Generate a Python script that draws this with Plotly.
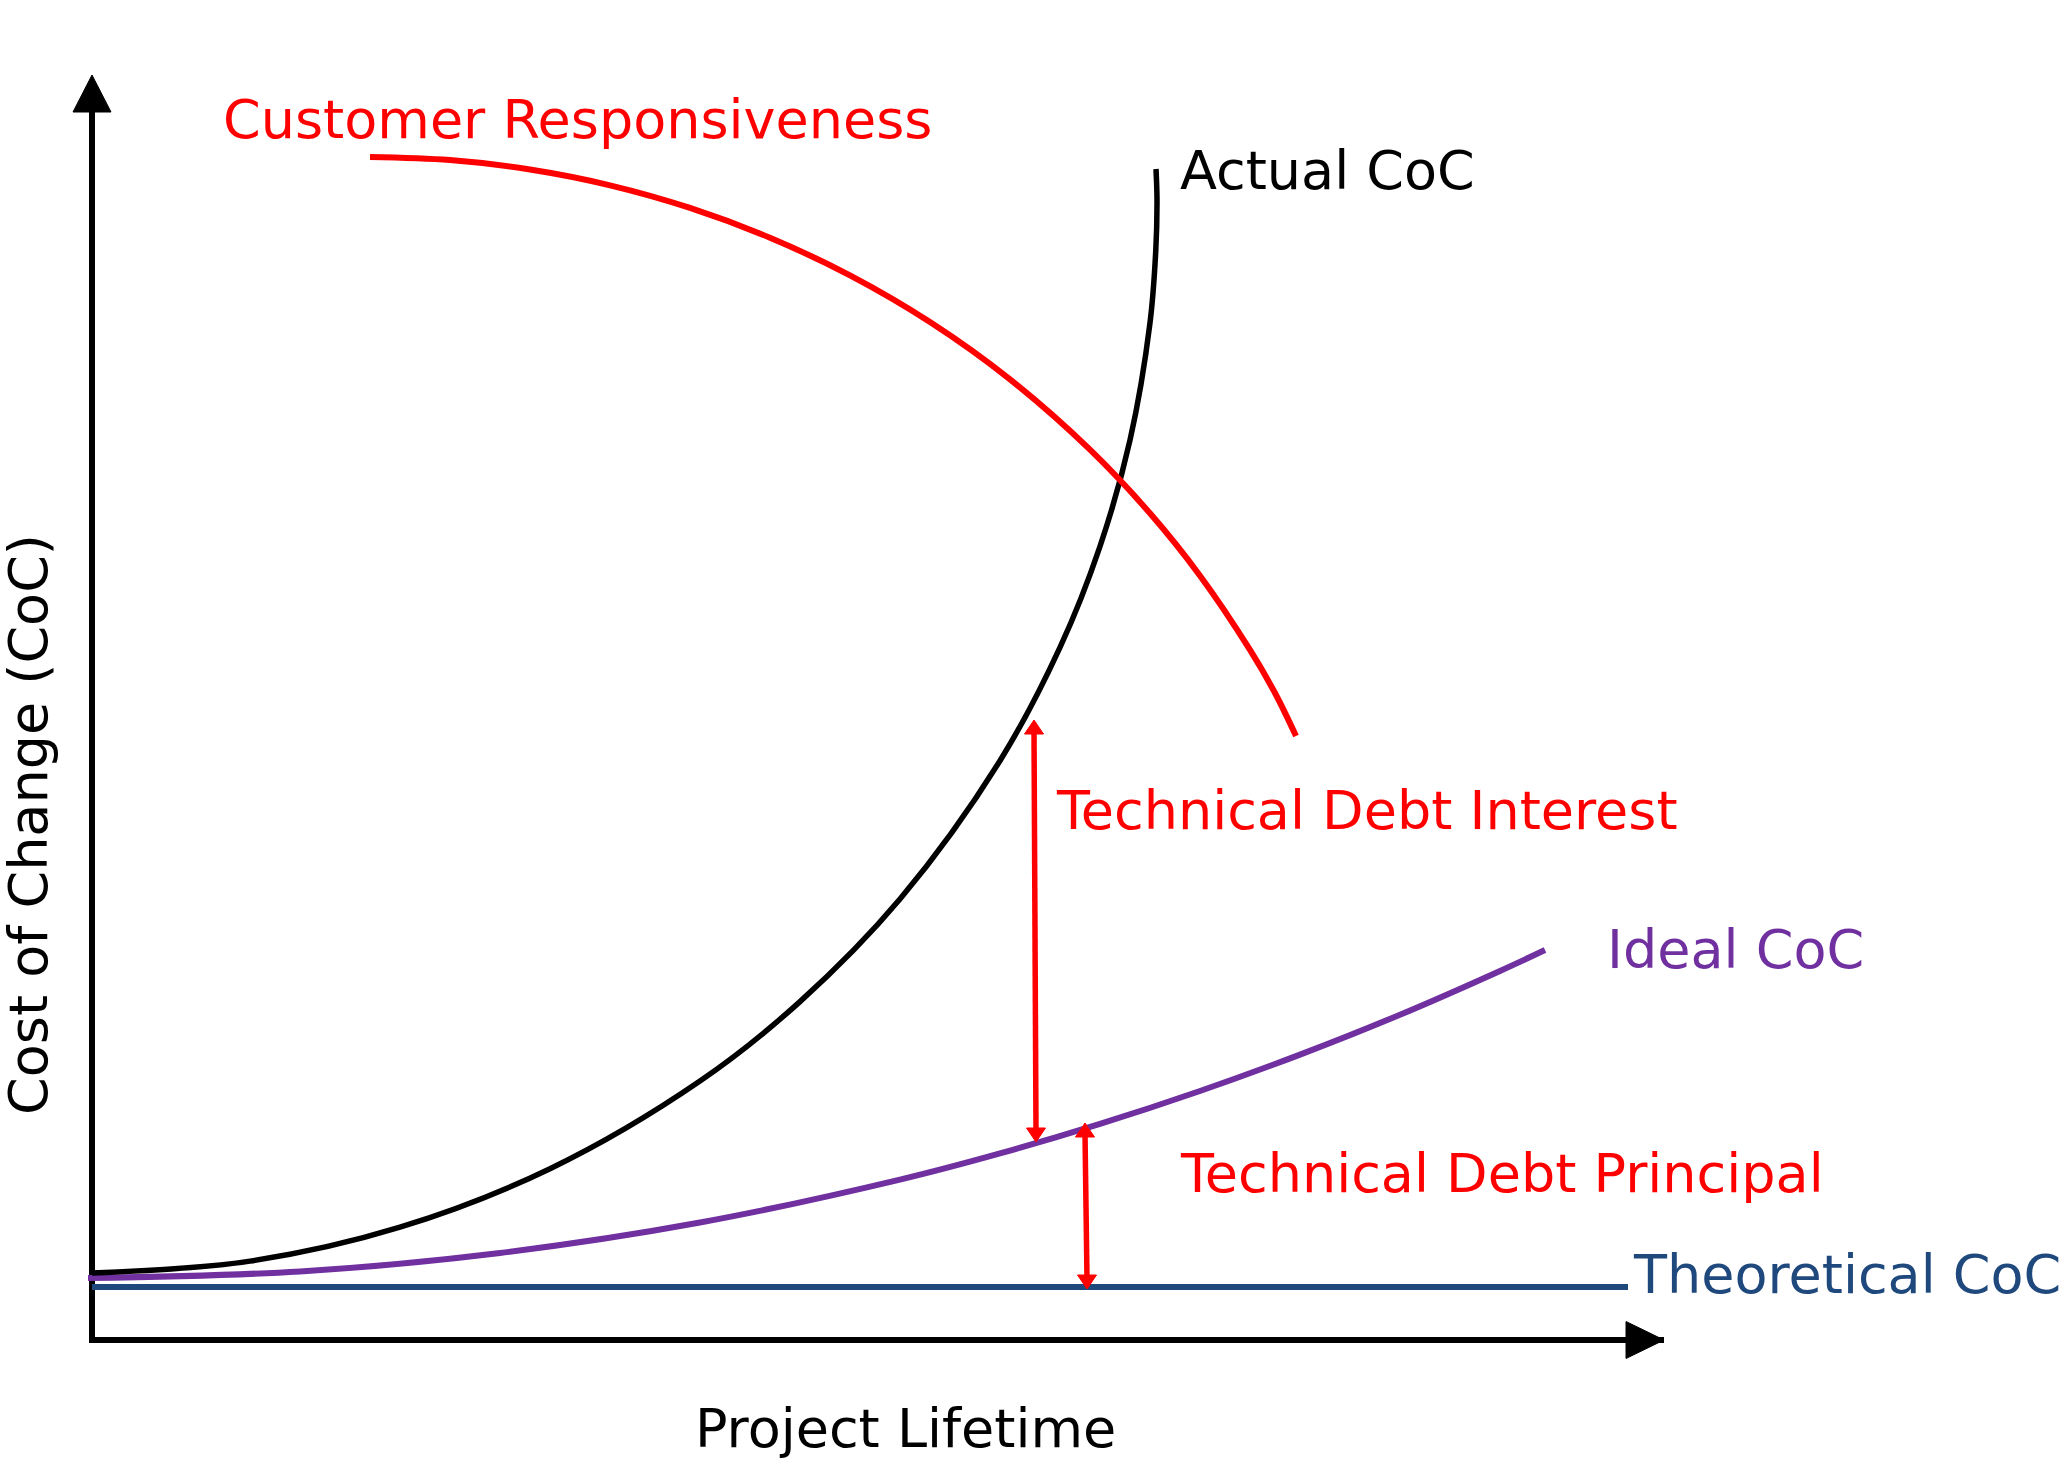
import plotly.graph_objects as go

# ---------------- data (arbitrary units: project lifetime / cost of change) ----------------
actual_x = [0, 15.8, 30.8, 45.8, 60.8, 70.8, 80.8, 90.8, 96.8, 100.8, 103.8, 105.8, 106.38, 106.5, 106.4]
actual_y = [6.7, 7.89, 11.28, 17.13, 25.9, 33.84, 44.1, 57.93, 69.26, 79.37, 89.99, 101.72, 109.0, 114.0, 117.1]

resp_x = [27.8, 35.8, 43.8, 51.8, 59.8, 67.8, 75.8, 83.8, 91.8, 99.8, 105.8, 110.8, 115.8, 118.3, 120.4]
resp_y = [118.3, 117.99, 117.05, 115.47, 113.21, 110.23, 106.46, 101.79, 96.06, 89.03, 82.67, 76.43, 69.01, 64.7, 60.4]

ideal_x = [-0.4, 20.8, 40.8, 60.8, 80.8, 90.8, 100.8, 110.8, 120.8, 130.8, 140.8, 145.3]
ideal_y = [6.2, 6.86, 8.71, 11.75, 16.04, 18.66, 21.61, 24.9, 28.54, 32.53, 36.91, 39.0]

theory_x = [0, 153.6]
theory_y = [5.3, 5.3]

# double arrows: [x_bottom, x_top], [y_bottom, y_top]
interest_x = [94.4, 94.2]
interest_y = [19.8, 62.0]
principal_x = [99.5, 99.3]
principal_y = [5.1, 21.7]

# axes extents
x_axis_end = 157.2
y_axis_end = 126.5

labels = {
    "resp": "Customer Responsiveness",
    "actual": "Actual CoC",
    "interest": "Technical Debt Interest",
    "ideal": "Ideal CoC",
    "principal": "Technical Debt Principal",
    "theory": "Theoretical CoC",
    "xtitle": "Project Lifetime",
    "ytitle": "Cost of Change (CoC)",
}

# ---------------- styling ----------------
RED = "#FF0000"
PURPLE = "#7030A0"
BLUE = "#1F497D"
BLACK = "#000000"
FONT = "DejaVu Sans"
FS = 54
PX = 0.1  # data units per pixel (both axes)

fig = go.Figure()


def line(x, y, color, width, shape="spline"):
    fig.add_trace(go.Scatter(x=x, y=y, mode="lines",
                             line=dict(color=color, width=width, shape=shape, smoothing=1.0),
                             hoverinfo="skip", showlegend=False))


def head(tx, ty, direction, length_px, width_px, color):
    L = length_px * PX
    W = width_px * PX / 2
    if direction == "up":
        xs = [tx - W, tx, tx + W, tx - W]
        ys = [ty - L, ty, ty - L, ty - L]
    elif direction == "down":
        xs = [tx - W, tx, tx + W, tx - W]
        ys = [ty + L, ty, ty + L, ty + L]
    else:  # right
        xs = [tx - L, tx, tx - L, tx - L]
        ys = [ty - W, ty, ty + W, ty - W]
    fig.add_trace(go.Scatter(x=xs, y=ys, mode="lines", fill="toself", fillcolor=color,
                             line=dict(color=color, width=1), hoverinfo="skip", showlegend=False))


# axes
line([0, 0], [-0.3, y_axis_end - 30 * PX], BLACK, 6, "linear")
line([-0.3, x_axis_end], [0, 0], BLACK, 6, "linear")
head(0, y_axis_end, "up", 37, 38, BLACK)
head(x_axis_end, 0, "right", 38, 37, BLACK)

# curves
line(theory_x, theory_y, BLUE, 6, "linear")
line(ideal_x, ideal_y, PURPLE, 6)
line(actual_x, actual_y, BLACK, 5.5)
line(resp_x, resp_y, RED, 6)

# double arrows
for ax_, ay_ in [(interest_x, interest_y), (principal_x, principal_y)]:
    line([ax_[0], ax_[1]], [ay_[0] + 10 * PX, ay_[1] - 10 * PX], RED, 5.5, "linear")
    head(ax_[1], ay_[1], "up", 14, 19, RED)
    head(ax_[0], ay_[0], "down", 14, 19, RED)


def text(s, x, y, color, xanchor="left", angle=0):
    fig.add_annotation(x=x, y=y, text=s, showarrow=False, xanchor=xanchor, yanchor="middle",
                       textangle=angle, font=dict(family=FONT, size=FS, color=color))


text(labels["resp"], 12.9, 122.05, RED)
text(labels["actual"], 108.55, 117.0, BLACK)
text(labels["interest"], 96.2, 53.0, RED)
text(labels["ideal"], 151.25, 39.1, PURPLE)
text(labels["principal"], 108.55, 16.7, RED)
text(labels["theory"], 153.85, 6.6, BLUE)
text(labels["xtitle"], 81.3, -8.8, BLACK, xanchor="center")
text(labels["ytitle"], -6.4, 51.5, BLACK, xanchor="center", angle=-90)

fig.update_layout(
    width=2062, height=1463,
    margin=dict(l=0, r=0, t=0, b=0),
    paper_bgcolor="white", plot_bgcolor="white",
    showlegend=False,
    xaxis=dict(range=[-9.2, 197.0], visible=False, fixedrange=True),
    yaxis=dict(range=[-12.3, 134.0], visible=False, fixedrange=True),
)

fig.write_html("out.html")
